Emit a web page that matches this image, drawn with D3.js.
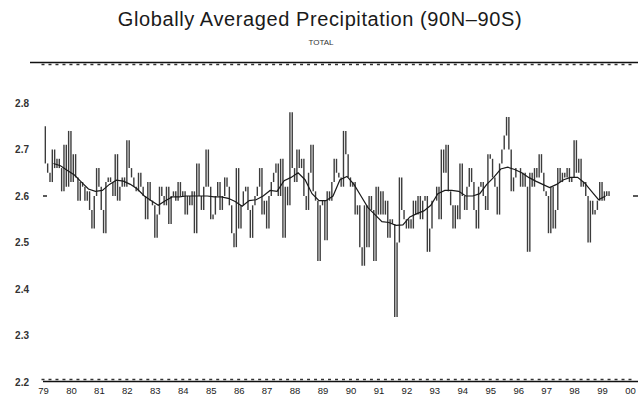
<!DOCTYPE html>
<html>
<head>
<meta charset="utf-8">
<script src="https://cdn.jsdelivr.net/npm/d3@7"></script>
<style>
  body { margin: 0; background: #fff; }
  svg { display: block; font-family: "Liberation Sans", Arial, sans-serif; }
</style>
</head>
<body>
<svg id="chart" width="638" height="398"></svg>
<script>
// monthly global precipitation (mm/day), Jan 1979 onward
const precip = [
  2.75, 2.67, 2.65, 2.63, 2.70, 2.66, 2.68, 2.66, 2.61, 2.71, 2.62, 2.74,
  2.63, 2.69, 2.64, 2.59, 2.63, 2.62, 2.59, 2.61, 2.57, 2.53, 2.60, 2.66,
  2.62, 2.57, 2.52, 2.63, 2.64, 2.63, 2.60, 2.69, 2.59, 2.62, 2.64, 2.62,
  2.72, 2.66, 2.64, 2.62, 2.61, 2.65, 2.62, 2.60, 2.55, 2.63, 2.59, 2.58,
  2.51, 2.56, 2.62, 2.60, 2.58, 2.62, 2.54, 2.60, 2.61, 2.59, 2.63, 2.60,
  2.61, 2.56, 2.60, 2.58, 2.61, 2.52, 2.67, 2.60, 2.57, 2.62, 2.70, 2.62,
  2.55, 2.56, 2.60, 2.63, 2.57, 2.60, 2.64, 2.62, 2.58, 2.52, 2.49, 2.66,
  2.53, 2.58, 2.61, 2.62, 2.57, 2.51, 2.58, 2.60, 2.62, 2.66, 2.56, 2.59,
  2.53, 2.60, 2.63, 2.65, 2.67, 2.60, 2.68, 2.51, 2.62, 2.58, 2.78, 2.66,
  2.63, 2.70, 2.66, 2.68, 2.60, 2.57, 2.65, 2.71, 2.61, 2.59, 2.46, 2.58,
  2.59, 2.505, 2.61, 2.59, 2.63, 2.68, 2.65, 2.64, 2.62, 2.74, 2.69, 2.64,
  2.62, 2.63, 2.56, 2.58, 2.49, 2.45, 2.58, 2.49, 2.60, 2.57, 2.46, 2.62,
  2.56, 2.61, 2.56, 2.59, 2.51, 2.55, 2.54, 2.34, 2.50, 2.64, 2.57, 2.55,
  2.53, 2.55, 2.53, 2.59, 2.56, 2.60, 2.55, 2.59, 2.60, 2.48, 2.53, 2.59,
  2.59, 2.62, 2.55, 2.70, 2.65, 2.71, 2.61, 2.58, 2.53, 2.58, 2.55, 2.67,
  2.60, 2.57, 2.62, 2.66, 2.63, 2.57, 2.53, 2.62, 2.63, 2.60, 2.57, 2.69,
  2.68, 2.64, 2.62, 2.56, 2.67, 2.70, 2.73, 2.77, 2.70, 2.61, 2.64, 2.66,
  2.66, 2.62, 2.65, 2.62, 2.48, 2.65, 2.62, 2.66, 2.64, 2.69, 2.65, 2.61,
  2.60, 2.52, 2.62, 2.53, 2.57, 2.66, 2.63, 2.65, 2.64, 2.66, 2.63, 2.64,
  2.72, 2.65, 2.68, 2.62, 2.63, 2.60, 2.50, 2.59, 2.56, 2.57, 2.59, 2.63,
  2.59, 2.61, 2.60, 2.61
];

// smoothed curve, one value every 3 months starting at month 4
const smoothStart = 4;
const smoothStep = 3;
const smooth = [
  2.67, 2.665, 2.655, 2.645, 2.63, 2.615, 2.61, 2.612, 2.625, 2.634,
  2.632, 2.625, 2.615, 2.60, 2.59, 2.58, 2.59, 2.598, 2.598, 2.60,
  2.60, 2.60, 2.60, 2.598, 2.598, 2.595, 2.588, 2.578, 2.59, 2.592,
  2.60, 2.612, 2.61, 2.633, 2.64, 2.65, 2.635, 2.605, 2.59, 2.59,
  2.60, 2.635, 2.642, 2.625, 2.60, 2.575, 2.56, 2.545, 2.543, 2.537,
  2.538, 2.555, 2.562, 2.568, 2.58, 2.605, 2.612, 2.612, 2.61, 2.60,
  2.60, 2.605, 2.625, 2.64, 2.658, 2.662, 2.657, 2.65, 2.64, 2.632,
  2.625, 2.618, 2.625, 2.635, 2.64, 2.64, 2.628, 2.61, 2.592, 2.60
];

const yearLabels = ["79","80","81","82","83","84","85","86","87","88","89",
                    "90","91","92","93","94","95","96","97","98","99","00"];
const yTicks = [2.2, 2.3, 2.4, 2.5, 2.6, 2.7, 2.8];

const svg = d3.select("#chart");

const x = d3.scaleLinear().domain([1979, 2000]).range([43, 630]);
const y = d3.scaleLinear().domain([2.2, 2.8]).range([382, 103]);
const monthX = i => x(1979 + i / 12);

// title
svg.append("text")
  .attr("x", 320).attr("y", 26)
  .attr("text-anchor", "middle")
  .style("font-size", "20px")
  .style("letter-spacing", "0.6px")
  .style("fill", "#1a1a1a")
  .text("Globally Averaged Precipitation (90N\u201390S)");

svg.append("text")
  .attr("x", 321).attr("y", 45)
  .attr("text-anchor", "middle")
  .style("font-size", "8px")
  .style("fill", "#333")
  .text("TOTAL");

// top frame line with small ticks
svg.append("line")
  .attr("x1", 30).attr("x2", 638)
  .attr("y1", 62.5).attr("y2", 62.5)
  .attr("stroke", "#111").attr("stroke-width", 1.5);

const quarters = d3.range(0, 21 * 4 + 1);
svg.append("g").selectAll("line")
  .data(quarters)
  .enter().append("line")
  .attr("x1", q => x(1979 + q / 4) - 1.5).attr("x2", q => x(1979 + q / 4) + 1.5)
  .attr("y1", 64.5).attr("y2", 64.5)
  .attr("stroke", "#333").attr("stroke-width", 1.5);

// bottom axis
const xAxis = svg.append("g")
  .attr("transform", "translate(0,381)")
  .call(d3.axisBottom(x)
    .tickValues(d3.range(1979, 2001))
    .tickSize(0)
    .tickPadding(6)
    .tickFormat((d, i) => yearLabels[i]));
xAxis.select(".domain").remove();
xAxis.selectAll("text")
  .style("font-size", "9.5px")
  .style("font-family", "'Liberation Sans', Arial, sans-serif")
  .style("fill", "#222");

svg.append("line")
  .attr("x1", 43).attr("x2", 638)
  .attr("y1", 381.5).attr("y2", 381.5)
  .attr("stroke", "#111").attr("stroke-width", 1.5);

svg.append("g").selectAll("line")
  .data(quarters)
  .enter().append("line")
  .attr("x1", q => x(1979 + q / 4) - 1.5).attr("x2", q => x(1979 + q / 4) + 1.5)
  .attr("y1", 379.5).attr("y2", 379.5)
  .attr("stroke", "#333").attr("stroke-width", 1.5);

// y axis labels
const yAxis = svg.append("g")
  .attr("transform", "translate(29,0)")
  .call(d3.axisLeft(y)
    .tickValues(yTicks)
    .tickSize(0)
    .tickPadding(0)
    .tickFormat(d3.format(".1f")));
yAxis.select(".domain").remove();
yAxis.selectAll("text")
  .style("font-size", "10px")
  .style("font-weight", "bold")
  .style("font-family", "'Liberation Sans', Arial, sans-serif")
  .style("fill", "#333");

// small marks at 2.6 on both sides
svg.append("line")
  .attr("x1", 43).attr("x2", 47)
  .attr("y1", y(2.6)).attr("y2", y(2.6))
  .attr("stroke", "#222").attr("stroke-width", 1.5);
svg.append("line")
  .attr("x1", 633).attr("x2", 638)
  .attr("y1", y(2.6)).attr("y2", y(2.6))
  .attr("stroke", "#222").attr("stroke-width", 1.5);

// monthly series: each month-to-month change drawn as a vertical stroke
svg.append("g").selectAll("line")
  .data(precip.slice(1))
  .enter().append("line")
  .attr("x1", (d, i) => monthX(i + 1))
  .attr("x2", (d, i) => monthX(i + 1))
  .attr("y1", (d, i) => y(precip[i]))
  .attr("y2", d => y(d))
  .attr("stroke", "#3c3c3c")
  .attr("stroke-width", 1.4);

// smoothed series
const smoothLine = d3.line()
  .x((d, k) => monthX(smoothStart + k * smoothStep + 0.5))
  .y(d => y(d));

svg.append("path")
  .datum(smooth)
  .attr("d", smoothLine)
  .attr("fill", "none")
  .attr("stroke", "#1a1a1a")
  .attr("stroke-width", 1.2);
</script>
</body>
</html>
